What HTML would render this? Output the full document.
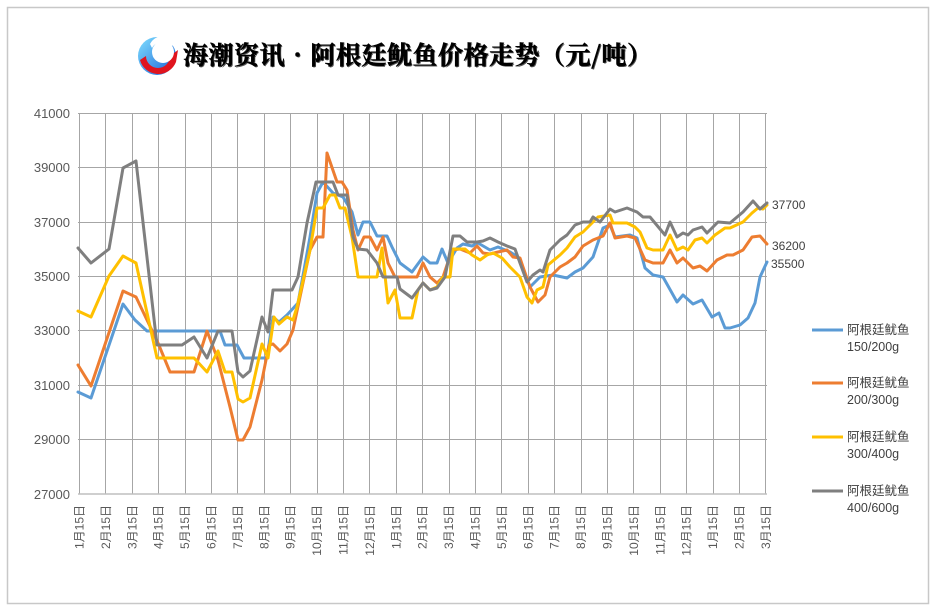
<!DOCTYPE html>
<html><head><meta charset="utf-8"><style>
html,body{margin:0;padding:0;background:#fff;}
svg{display:block;}
text{font-family:"Liberation Sans","Noto Sans CJK SC",sans-serif;}
</style></head><body>
<svg width="935" height="613" viewBox="0 0 935 613" xmlns="http://www.w3.org/2000/svg">
<rect x="7.5" y="7.5" width="921" height="596" fill="#fff" stroke="#c8c8c8" stroke-width="1.5"/>
<defs>
<linearGradient id="lg" x1="0" y1="0" x2="1" y2="1"><stop offset="0" stop-color="#7fe0ff"/><stop offset="1" stop-color="#1a5fd6"/></linearGradient>
</defs>
<circle cx="157" cy="56" r="19" fill="url(#lg)"/>
<path d="M140 60 A19 19 0 0 0 176 62 L178 50 L170 56 A12 12 0 0 1 146 56 Z" fill="#e0141e"/>
<circle cx="163" cy="52" r="11" fill="#fff"/>
<path d="M150 44 A14 14 0 0 1 176 46 L166 45 A9 9 0 0 0 152 48 Z" fill="#fff"/>
<text x="184" y="65" font-size="25" font-weight="bold" fill="#555" style="font-family:'Noto Serif CJK SC','Noto Sans CJK SC',serif;letter-spacing:0.5px;">海潮资讯•阿根廷鱿鱼价格走势（元/吨）</text>
<text x="183" y="64" font-size="25" font-weight="bold" fill="#000" stroke="#000" stroke-width="0.6" style="font-family:'Noto Serif CJK SC','Noto Sans CJK SC',serif;letter-spacing:0.5px;">海潮资讯•阿根廷鱿鱼价格走势（元/吨）</text>
<g stroke="#a6a6a6" stroke-width="1">
<line x1="78" y1="113.5" x2="767" y2="113.5"/>
<line x1="78" y1="167.5" x2="767" y2="167.5"/>
<line x1="78" y1="222.5" x2="767" y2="222.5"/>
<line x1="78" y1="276.5" x2="767" y2="276.5"/>
<line x1="78" y1="330.5" x2="767" y2="330.5"/>
<line x1="78" y1="385.5" x2="767" y2="385.5"/>
<line x1="78" y1="439.5" x2="767" y2="439.5"/>
</g>
<g stroke="#a6a6a6" stroke-width="1" id="vg"></g>
<line x1="78" y1="494" x2="767" y2="494" stroke="#bfbfbf" stroke-width="1.5"/>
<g font-size="13" fill="#595959" text-anchor="end">
<text x="70" y="118">41000</text>
<text x="70" y="172">39000</text>
<text x="70" y="227">37000</text>
<text x="70" y="281">35000</text>
<text x="70" y="335">33000</text>
<text x="70" y="390">31000</text>
<text x="70" y="444">29000</text>
<text x="70" y="499">27000</text>
</g>
<g id="xl" font-size="12" fill="#595959" text-anchor="end"></g>
<g fill="none" stroke-width="3" stroke-linejoin="round" stroke-linecap="round">
<polyline stroke="#5b9bd5" points="78,392 91,398 123,304 135,320 147,331 220,331 225,345 237,345 244,358 267,358 273,317 279,322 287,315 298,303 310,237 317,193 323,182 333,193 343,197 352,212 358,235 363,222 370,222 377,236 387,236 392,247 400,263 412,272 423,257 430,263 437,263 442,249 448,263 457,248 463,244 472,246 478,243 490,250 498,247 510,252 518,257 523,270 530,287 540,277 553,275 567,278 575,272 583,268 593,257 603,228 610,225 615,237 630,235 637,238 645,268 653,275 663,277 677,302 683,295 693,304 702,300 712,317 719,313 725,328 730,328 740,325 748,318 755,303 760,277 767,262"/>
<polyline stroke="#ed7d31" points="78,365 91,386 123,291 136,297 158,343 170,372 194,372 207,331 218,360 230,407 238,440 243,440 250,427 262,380 269,345 273,344 280,351 287,344 293,330 300,297 310,250 317,237 323,237 327,153 337,182 342,182 347,190 353,230 358,250 364,237 370,237 377,250 383,237 388,263 395,277 417,277 423,263 430,277 437,283 443,277 452,250 460,249 470,253 477,246 483,253 490,254 498,252 507,250 513,257 520,258 523,267 530,287 538,302 545,295 550,277 560,267 567,263 575,257 583,246 593,240 603,236 610,223 615,238 627,236 635,238 645,260 653,263 663,263 670,250 677,263 683,258 693,268 700,266 707,271 717,260 727,255 733,255 743,250 752,237 760,236 767,244"/>
<polyline stroke="#ffc000" points="78,311 91,317 109,276 123,256 136,263 157,358 194,358 207,372 218,351 225,372 232,372 238,399 243,402 250,398 262,344 268,358 274,317 279,324 287,317 293,320 297,307 310,250 317,208 323,208 330,195 335,195 340,208 345,208 352,237 358,277 377,277 382,248 388,303 395,290 400,318 412,318 418,290 423,283 430,290 437,287 443,277 450,277 453,249 465,249 472,255 480,260 487,255 493,253 502,258 510,267 520,277 527,297 532,303 537,290 543,287 548,265 560,255 567,248 575,237 583,232 593,222 598,217 610,215 613,223 627,223 635,227 640,232 647,248 653,250 663,250 670,235 677,250 683,247 688,250 695,240 702,238 707,243 715,235 725,228 730,228 743,222 752,213 758,208 763,209 767,205"/>
<polyline stroke="#7f7f7f" points="78,248 91,263 109,249 123,168 136,161 157,345 182,345 194,337 207,358 218,331 232,331 238,372 243,377 250,371 262,317 268,332 273,290 292,290 298,277 307,223 316,182 333,182 338,195 347,195 353,237 358,249 367,250 377,263 383,277 397,277 400,289 412,298 423,283 430,290 437,288 445,277 453,236 460,236 467,242 477,242 483,241 490,238 498,242 507,246 515,249 520,263 527,282 533,275 540,270 543,272 550,250 560,240 567,235 575,225 583,222 590,222 593,217 600,222 610,209 615,212 627,208 637,212 643,217 650,217 665,235 670,222 677,237 683,233 688,235 693,230 702,227 707,233 718,222 730,223 743,212 753,201 760,209 767,203"/>
</g>
<g font-size="12" fill="#404040">
<text x="772" y="209">37700</text>
<text x="772" y="250">36200</text>
<text x="771" y="268">35500</text>
</g>
<g stroke-width="3">
<line x1="812" y1="330" x2="843" y2="330" stroke="#5b9bd5"/>
<line x1="812" y1="383" x2="843" y2="383" stroke="#ed7d31"/>
<line x1="812" y1="437" x2="843" y2="437" stroke="#ffc000"/>
<line x1="812" y1="491" x2="843" y2="491" stroke="#7f7f7f"/>
</g>
<g font-size="12.5" fill="#404040">
<text x="847" y="334">阿根廷鱿鱼</text><text x="847" y="351">150/200g</text>
<text x="847" y="387">阿根廷鱿鱼</text><text x="847" y="404">200/300g</text>
<text x="847" y="441">阿根廷鱿鱼</text><text x="847" y="458">300/400g</text>
<text x="847" y="495">阿根廷鱿鱼</text><text x="847" y="512">400/600g</text>
</g>
<script>
(function(){
var ns="http://www.w3.org/2000/svg",vg=document.getElementById("vg"),xl=document.getElementById("xl");
var m=[1,2,3,4,5,6,7,8,9,10,11,12,1,2,3,4,5,6,7,8,9,10,11,12,1,2,3];
for(var i=0;i<27;i++){
 var x=79+i*26.4;
 var l=document.createElementNS(ns,"line");
 var xx=Math.round(x)+0.5;
 l.setAttribute("x1",xx);l.setAttribute("x2",xx);l.setAttribute("y1",113);l.setAttribute("y2",494);
 vg.appendChild(l);
 var t=document.createElementNS(ns,"text");
 t.setAttribute("transform","translate("+(x+4.5)+",505) rotate(-90)");
 t.textContent=m[i]+"月15日";
 xl.appendChild(t);
}
})();
</script>
</svg>
</body></html>
